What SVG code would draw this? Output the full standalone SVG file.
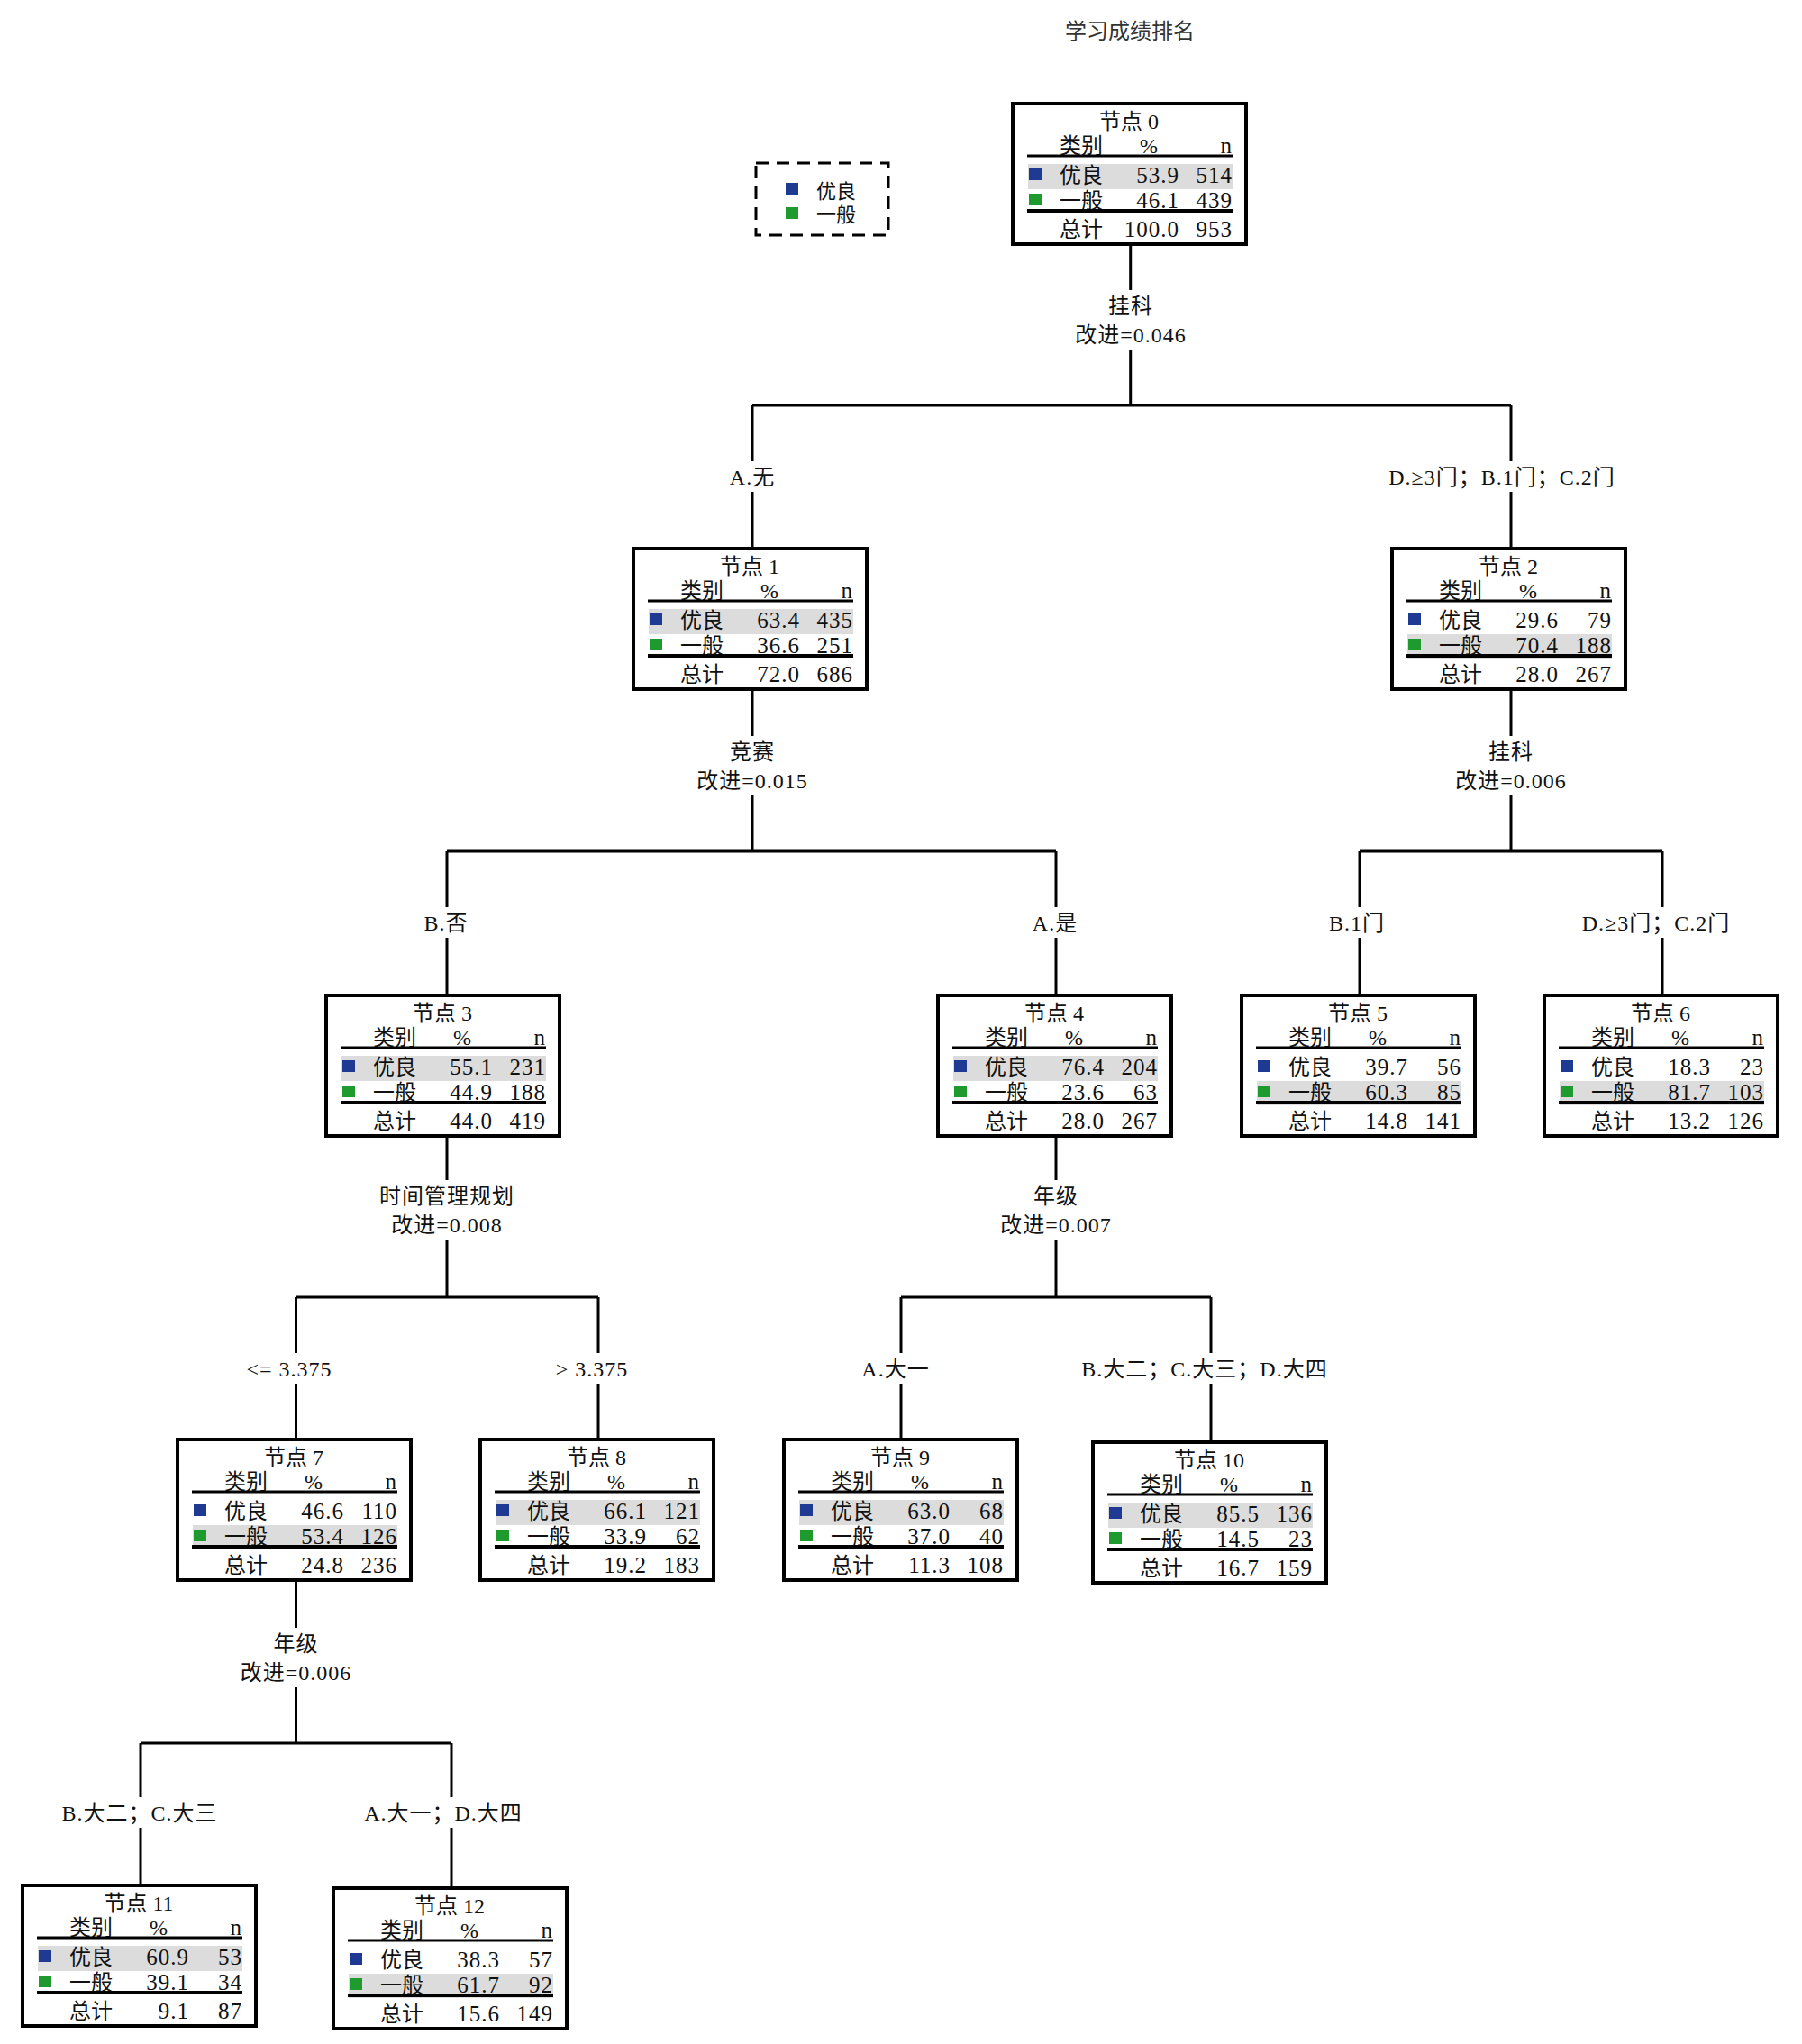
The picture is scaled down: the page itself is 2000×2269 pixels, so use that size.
<svg xmlns="http://www.w3.org/2000/svg" width="2000" height="2269" viewBox="0 0 2000 2269">
<style>
text{font-family:"Liberation Serif","Noto Sans CJK SC",serif;font-size:24px;fill:#111}
.c{text-anchor:middle}
.e{text-anchor:end;font-size:25px;letter-spacing:1px}
.title{fill:#333}
#labels text{letter-spacing:1px}
.box{fill:#fff;stroke:#000;stroke-width:4}
.hl{fill:#dcdcdc}
.hd{stroke:#000;stroke-width:3}
.ul{stroke:#000;stroke-width:4}
.blue{fill:#1f3a93}
.green{fill:#1e9a2e}
.conn path{stroke:#000;stroke-width:3;fill:none}
.bg{fill:#fff}
.legend{fill:none;stroke:#000;stroke-width:3;stroke-dasharray:14 9}
.lt{font-size:22px}
</style>
<rect width="2000" height="2269" fill="#fff"/>
<text class="c title" x="1254" y="43">学习成绩排名</text>

<g id="legend">
<rect class="legend" x="839" y="181" width="147" height="80"/>
<rect class="blue" x="872" y="203" width="14" height="13"/>
<rect class="green" x="872" y="230" width="14" height="13"/>
<text class="lt" x="906" y="220">优良</text>
<text class="lt" x="906" y="246">一般</text>
</g>

<g class="conn" id="connectors">
<path d="M1254.7 273V450M835 450H1677M835 450V607M1677 450V607"/>
<path d="M835 767V945M496 945H1172M496 945V1103M1172 945V1103"/>
<path d="M1677 767V945M1509 945H1845M1509 945V1103M1845 945V1103"/>
<path d="M496 1262V1440M328.5 1440H664M328.5 1440V1596M664 1440V1596"/>
<path d="M1172 1262V1440M1000 1440H1344M1000 1440V1596M1344 1440V1599"/>
<path d="M328.5 1755V1935M156 1935H501M156 1935V2091M501 1935V2094"/>
</g>

<g id="labels">
<rect class="bg" x="1248" y="322" width="14" height="66"/>
<text class="c" x="1255" y="348">挂科</text>
<text class="c" x="1255" y="380">改进=0.046</text>
<rect class="bg" x="828" y="512" width="14" height="34"/>
<text class="c" x="835" y="538">A.无</text>
<rect class="bg" x="1670" y="512" width="14" height="34"/>
<text class="c" x="1667" y="538">D.≥3门；B.1门；C.2门</text>

<rect class="bg" x="828" y="817" width="14" height="66"/>
<text class="c" x="835" y="843">竞赛</text>
<text class="c" x="835" y="875">改进=0.015</text>
<rect class="bg" x="1670" y="817" width="14" height="66"/>
<text class="c" x="1677" y="843">挂科</text>
<text class="c" x="1677" y="875">改进=0.006</text>

<rect class="bg" x="489" y="1007" width="14" height="34"/>
<text class="c" x="495" y="1033">B.否</text>
<rect class="bg" x="1165" y="1007" width="14" height="34"/>
<text class="c" x="1171" y="1033">A.是</text>
<rect class="bg" x="1502" y="1007" width="14" height="34"/>
<text class="c" x="1506" y="1033">B.1门</text>
<rect class="bg" x="1838" y="1007" width="14" height="34"/>
<text class="c" x="1838" y="1033">D.≥3门；C.2门</text>

<rect class="bg" x="489" y="1310" width="14" height="66"/>
<text class="c" x="496" y="1336">时间管理规划</text>
<text class="c" x="496" y="1368">改进=0.008</text>
<rect class="bg" x="1165" y="1310" width="14" height="66"/>
<text class="c" x="1172" y="1336">年级</text>
<text class="c" x="1172" y="1368">改进=0.007</text>

<rect class="bg" x="321" y="1502" width="14" height="34"/>
<text class="c" x="321" y="1528">&lt;= 3.375</text>
<rect class="bg" x="657" y="1502" width="14" height="34"/>
<text class="c" x="657" y="1528">&gt; 3.375</text>
<rect class="bg" x="993" y="1502" width="14" height="34"/>
<text class="c" x="994" y="1528">A.大一</text>
<rect class="bg" x="1337" y="1502" width="14" height="34"/>
<text class="c" x="1337" y="1528">B.大二；C.大三；D.大四</text>

<rect class="bg" x="321.5" y="1807" width="14" height="66"/>
<text class="c" x="328.5" y="1833">年级</text>
<text class="c" x="328.5" y="1865">改进=0.006</text>

<rect class="bg" x="149" y="1995" width="14" height="34"/>
<text class="c" x="155" y="2021">B.大二；C.大三</text>
<rect class="bg" x="494" y="1995" width="14" height="34"/>
<text class="c" x="492" y="2021">A.大一；D.大四</text>
</g>

<g id="node0" transform="translate(1122,113)">
<rect class="box" x="2" y="2" width="259" height="156"/>
<rect class="hl" x="19" y="69" width="227" height="28"/>
<text class="c" x="131" y="30">节点 0</text>
<text x="54" y="57">类别</text><text class="c" x="153" y="57">%</text><text class="e" x="246" y="57">n</text>
<line class="hd" x1="18" y1="60" x2="246" y2="60"/>
<rect class="blue" x="20" y="74" width="14" height="13"/>
<text x="54" y="90">优良</text><text class="e" x="187" y="90">53.9</text><text class="e" x="246" y="90">514</text>
<rect class="green" x="20" y="102" width="14" height="13"/>
<text x="54" y="118">一般</text><text class="e" x="187" y="118">46.1</text><text class="e" x="246" y="118">439</text>
<line class="ul" x1="18" y1="121" x2="246" y2="121"/>
<text x="54" y="150">总计</text><text class="e" x="187" y="150">100.0</text><text class="e" x="246" y="150">953</text>
</g>

<g id="node1" transform="translate(701,607)">
<rect class="box" x="2" y="2" width="259" height="156"/>
<rect class="hl" x="19" y="69" width="227" height="28"/>
<text class="c" x="131" y="30">节点 1</text>
<text x="54" y="57">类别</text><text class="c" x="153" y="57">%</text><text class="e" x="246" y="57">n</text>
<line class="hd" x1="18" y1="60" x2="246" y2="60"/>
<rect class="blue" x="20" y="74" width="14" height="13"/>
<text x="54" y="90">优良</text><text class="e" x="187" y="90">63.4</text><text class="e" x="246" y="90">435</text>
<rect class="green" x="20" y="102" width="14" height="13"/>
<text x="54" y="118">一般</text><text class="e" x="187" y="118">36.6</text><text class="e" x="246" y="118">251</text>
<line class="ul" x1="18" y1="121" x2="246" y2="121"/>
<text x="54" y="150">总计</text><text class="e" x="187" y="150">72.0</text><text class="e" x="246" y="150">686</text>
</g>

<g id="node2" transform="translate(1543,607)">
<rect class="box" x="2" y="2" width="259" height="156"/>
<rect class="hl" x="19" y="97" width="227" height="27"/>
<text class="c" x="131" y="30">节点 2</text>
<text x="54" y="57">类别</text><text class="c" x="153" y="57">%</text><text class="e" x="246" y="57">n</text>
<line class="hd" x1="18" y1="60" x2="246" y2="60"/>
<rect class="blue" x="20" y="74" width="14" height="13"/>
<text x="54" y="90">优良</text><text class="e" x="187" y="90">29.6</text><text class="e" x="246" y="90">79</text>
<rect class="green" x="20" y="102" width="14" height="13"/>
<text x="54" y="118">一般</text><text class="e" x="187" y="118">70.4</text><text class="e" x="246" y="118">188</text>
<line class="ul" x1="18" y1="121" x2="246" y2="121"/>
<text x="54" y="150">总计</text><text class="e" x="187" y="150">28.0</text><text class="e" x="246" y="150">267</text>
</g>

<g id="node3" transform="translate(360,1103)">
<rect class="box" x="2" y="2" width="259" height="156"/>
<rect class="hl" x="19" y="69" width="227" height="28"/>
<text class="c" x="131" y="30">节点 3</text>
<text x="54" y="57">类别</text><text class="c" x="153" y="57">%</text><text class="e" x="246" y="57">n</text>
<line class="hd" x1="18" y1="60" x2="246" y2="60"/>
<rect class="blue" x="20" y="74" width="14" height="13"/>
<text x="54" y="90">优良</text><text class="e" x="187" y="90">55.1</text><text class="e" x="246" y="90">231</text>
<rect class="green" x="20" y="102" width="14" height="13"/>
<text x="54" y="118">一般</text><text class="e" x="187" y="118">44.9</text><text class="e" x="246" y="118">188</text>
<line class="ul" x1="18" y1="121" x2="246" y2="121"/>
<text x="54" y="150">总计</text><text class="e" x="187" y="150">44.0</text><text class="e" x="246" y="150">419</text>
</g>

<g id="node4" transform="translate(1039,1103)">
<rect class="box" x="2" y="2" width="259" height="156"/>
<rect class="hl" x="19" y="69" width="227" height="28"/>
<text class="c" x="131" y="30">节点 4</text>
<text x="54" y="57">类别</text><text class="c" x="153" y="57">%</text><text class="e" x="246" y="57">n</text>
<line class="hd" x1="18" y1="60" x2="246" y2="60"/>
<rect class="blue" x="20" y="74" width="14" height="13"/>
<text x="54" y="90">优良</text><text class="e" x="187" y="90">76.4</text><text class="e" x="246" y="90">204</text>
<rect class="green" x="20" y="102" width="14" height="13"/>
<text x="54" y="118">一般</text><text class="e" x="187" y="118">23.6</text><text class="e" x="246" y="118">63</text>
<line class="ul" x1="18" y1="121" x2="246" y2="121"/>
<text x="54" y="150">总计</text><text class="e" x="187" y="150">28.0</text><text class="e" x="246" y="150">267</text>
</g>

<g id="node5" transform="translate(1376,1103)">
<rect class="box" x="2" y="2" width="259" height="156"/>
<rect class="hl" x="19" y="97" width="227" height="27"/>
<text class="c" x="131" y="30">节点 5</text>
<text x="54" y="57">类别</text><text class="c" x="153" y="57">%</text><text class="e" x="246" y="57">n</text>
<line class="hd" x1="18" y1="60" x2="246" y2="60"/>
<rect class="blue" x="20" y="74" width="14" height="13"/>
<text x="54" y="90">优良</text><text class="e" x="187" y="90">39.7</text><text class="e" x="246" y="90">56</text>
<rect class="green" x="20" y="102" width="14" height="13"/>
<text x="54" y="118">一般</text><text class="e" x="187" y="118">60.3</text><text class="e" x="246" y="118">85</text>
<line class="ul" x1="18" y1="121" x2="246" y2="121"/>
<text x="54" y="150">总计</text><text class="e" x="187" y="150">14.8</text><text class="e" x="246" y="150">141</text>
</g>

<g id="node6" transform="translate(1712,1103)">
<rect class="box" x="2" y="2" width="259" height="156"/>
<rect class="hl" x="19" y="97" width="227" height="27"/>
<text class="c" x="131" y="30">节点 6</text>
<text x="54" y="57">类别</text><text class="c" x="153" y="57">%</text><text class="e" x="246" y="57">n</text>
<line class="hd" x1="18" y1="60" x2="246" y2="60"/>
<rect class="blue" x="20" y="74" width="14" height="13"/>
<text x="54" y="90">优良</text><text class="e" x="187" y="90">18.3</text><text class="e" x="246" y="90">23</text>
<rect class="green" x="20" y="102" width="14" height="13"/>
<text x="54" y="118">一般</text><text class="e" x="187" y="118">81.7</text><text class="e" x="246" y="118">103</text>
<line class="ul" x1="18" y1="121" x2="246" y2="121"/>
<text x="54" y="150">总计</text><text class="e" x="187" y="150">13.2</text><text class="e" x="246" y="150">126</text>
</g>

<g id="node7" transform="translate(195,1596)">
<rect class="box" x="2" y="2" width="259" height="156"/>
<rect class="hl" x="19" y="97" width="227" height="27"/>
<text class="c" x="131" y="30">节点 7</text>
<text x="54" y="57">类别</text><text class="c" x="153" y="57">%</text><text class="e" x="246" y="57">n</text>
<line class="hd" x1="18" y1="60" x2="246" y2="60"/>
<rect class="blue" x="20" y="74" width="14" height="13"/>
<text x="54" y="90">优良</text><text class="e" x="187" y="90">46.6</text><text class="e" x="246" y="90">110</text>
<rect class="green" x="20" y="102" width="14" height="13"/>
<text x="54" y="118">一般</text><text class="e" x="187" y="118">53.4</text><text class="e" x="246" y="118">126</text>
<line class="ul" x1="18" y1="121" x2="246" y2="121"/>
<text x="54" y="150">总计</text><text class="e" x="187" y="150">24.8</text><text class="e" x="246" y="150">236</text>
</g>

<g id="node8" transform="translate(531,1596)">
<rect class="box" x="2" y="2" width="259" height="156"/>
<rect class="hl" x="19" y="69" width="227" height="28"/>
<text class="c" x="131" y="30">节点 8</text>
<text x="54" y="57">类别</text><text class="c" x="153" y="57">%</text><text class="e" x="246" y="57">n</text>
<line class="hd" x1="18" y1="60" x2="246" y2="60"/>
<rect class="blue" x="20" y="74" width="14" height="13"/>
<text x="54" y="90">优良</text><text class="e" x="187" y="90">66.1</text><text class="e" x="246" y="90">121</text>
<rect class="green" x="20" y="102" width="14" height="13"/>
<text x="54" y="118">一般</text><text class="e" x="187" y="118">33.9</text><text class="e" x="246" y="118">62</text>
<line class="ul" x1="18" y1="121" x2="246" y2="121"/>
<text x="54" y="150">总计</text><text class="e" x="187" y="150">19.2</text><text class="e" x="246" y="150">183</text>
</g>

<g id="node9" transform="translate(868,1596)">
<rect class="box" x="2" y="2" width="259" height="156"/>
<rect class="hl" x="19" y="69" width="227" height="28"/>
<text class="c" x="131" y="30">节点 9</text>
<text x="54" y="57">类别</text><text class="c" x="153" y="57">%</text><text class="e" x="246" y="57">n</text>
<line class="hd" x1="18" y1="60" x2="246" y2="60"/>
<rect class="blue" x="20" y="74" width="14" height="13"/>
<text x="54" y="90">优良</text><text class="e" x="187" y="90">63.0</text><text class="e" x="246" y="90">68</text>
<rect class="green" x="20" y="102" width="14" height="13"/>
<text x="54" y="118">一般</text><text class="e" x="187" y="118">37.0</text><text class="e" x="246" y="118">40</text>
<line class="ul" x1="18" y1="121" x2="246" y2="121"/>
<text x="54" y="150">总计</text><text class="e" x="187" y="150">11.3</text><text class="e" x="246" y="150">108</text>
</g>

<g id="node10" transform="translate(1211,1599)">
<rect class="box" x="2" y="2" width="259" height="156"/>
<rect class="hl" x="19" y="69" width="227" height="28"/>
<text class="c" x="131" y="30">节点 10</text>
<text x="54" y="57">类别</text><text class="c" x="153" y="57">%</text><text class="e" x="246" y="57">n</text>
<line class="hd" x1="18" y1="60" x2="246" y2="60"/>
<rect class="blue" x="20" y="74" width="14" height="13"/>
<text x="54" y="90">优良</text><text class="e" x="187" y="90">85.5</text><text class="e" x="246" y="90">136</text>
<rect class="green" x="20" y="102" width="14" height="13"/>
<text x="54" y="118">一般</text><text class="e" x="187" y="118">14.5</text><text class="e" x="246" y="118">23</text>
<line class="ul" x1="18" y1="121" x2="246" y2="121"/>
<text x="54" y="150">总计</text><text class="e" x="187" y="150">16.7</text><text class="e" x="246" y="150">159</text>
</g>

<g id="node11" transform="translate(23,2091)">
<rect class="box" x="2" y="2" width="259" height="156"/>
<rect class="hl" x="19" y="69" width="227" height="28"/>
<text class="c" x="131" y="30">节点 11</text>
<text x="54" y="57">类别</text><text class="c" x="153" y="57">%</text><text class="e" x="246" y="57">n</text>
<line class="hd" x1="18" y1="60" x2="246" y2="60"/>
<rect class="blue" x="20" y="74" width="14" height="13"/>
<text x="54" y="90">优良</text><text class="e" x="187" y="90">60.9</text><text class="e" x="246" y="90">53</text>
<rect class="green" x="20" y="102" width="14" height="13"/>
<text x="54" y="118">一般</text><text class="e" x="187" y="118">39.1</text><text class="e" x="246" y="118">34</text>
<line class="ul" x1="18" y1="121" x2="246" y2="121"/>
<text x="54" y="150">总计</text><text class="e" x="187" y="150">9.1</text><text class="e" x="246" y="150">87</text>
</g>

<g id="node12" transform="translate(368,2094)">
<rect class="box" x="2" y="2" width="259" height="156"/>
<rect class="hl" x="19" y="97" width="227" height="27"/>
<text class="c" x="131" y="30">节点 12</text>
<text x="54" y="57">类别</text><text class="c" x="153" y="57">%</text><text class="e" x="246" y="57">n</text>
<line class="hd" x1="18" y1="60" x2="246" y2="60"/>
<rect class="blue" x="20" y="74" width="14" height="13"/>
<text x="54" y="90">优良</text><text class="e" x="187" y="90">38.3</text><text class="e" x="246" y="90">57</text>
<rect class="green" x="20" y="102" width="14" height="13"/>
<text x="54" y="118">一般</text><text class="e" x="187" y="118">61.7</text><text class="e" x="246" y="118">92</text>
<line class="ul" x1="18" y1="121" x2="246" y2="121"/>
<text x="54" y="150">总计</text><text class="e" x="187" y="150">15.6</text><text class="e" x="246" y="150">149</text>
</g>
</svg>
